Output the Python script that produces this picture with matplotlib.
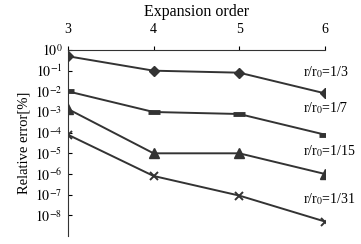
import matplotlib
matplotlib.use("Agg")
import matplotlib.pyplot as plt
import numpy as np

plt.rcParams['font.family'] = ['Liberation Serif', 'DejaVu Serif']
plt.rcParams['mathtext.fontset'] = 'stix'

orders = [3, 4, 5, 6]
err_1_3 = [0.5, 0.1, 0.08, 0.008]
err_1_7 = [0.01, 0.001, 0.0008, 0.00008]
err_1_15 = [0.0014, 0.00001, 0.00001, 0.000001]
err_1_31 = [0.00008, 0.0000008, 0.00000009, 0.000000005]
labels = ["r/r$_0$=1/3", "r/r$_0$=1/7", "r/r$_0$=1/15", "r/r$_0$=1/31"]
ytick_exps = [0, -1, -2, -3, -4, -5, -6, -7, -8]

fig = plt.figure(figsize=(3.61, 2.44), dpi=100)
ax = fig.add_axes([0.188, 0.033, 0.712, 0.762])
c = '#333333'
ax.plot(orders, err_1_3, color=c, lw=1.4, marker='D', ms=5.5)
ax.plot(orders, err_1_7, color=c, lw=1.4, marker='_', ms=8, mew=3.5)
ax.plot(orders, err_1_15, color=c, lw=1.4, marker='^', ms=6.5)
ax.plot(orders, err_1_31, color=c, lw=1.4, marker='x', ms=6, mew=1.4)

ax.set_yscale('log')
ax.set_xlim(3, 6)
ax.set_ylim(1e-9, 1)
ax.set_yticks([10.0**e for e in ytick_exps])
ax.set_yticklabels([f"$10^{{{e}}}$" for e in ytick_exps], fontsize=10)
ax.yaxis.set_minor_locator(matplotlib.ticker.NullLocator())
ax.xaxis.tick_top()
ax.xaxis.set_label_position('top')
ax.set_xticks(orders)
ax.set_xticklabels([str(o) for o in orders], fontsize=10)
ax.set_xlabel("Expansion order", fontsize=11.5, labelpad=5)
ax.set_ylabel("Relative error[%]", fontsize=10.5, labelpad=3)
ax.tick_params(axis='y', direction='in', length=3, width=0.8, pad=4)
ax.tick_params(axis='x', direction='out', length=3, width=0.8, pad=7)
for s in ['right', 'bottom']:
    ax.spines[s].set_visible(False)
for s in ['left', 'top']:
    ax.spines[s].set_color(c)
    ax.spines[s].set_linewidth(0.8)

label_y = [0.087, 0.0016, 0.000013, 0.00000006]
for lab, yv in zip(labels, label_y):
    ax.text(5.74, yv, lab, fontsize=10, va='center', ha='left', clip_on=False)

fig.savefig("out.png", dpi=100)
